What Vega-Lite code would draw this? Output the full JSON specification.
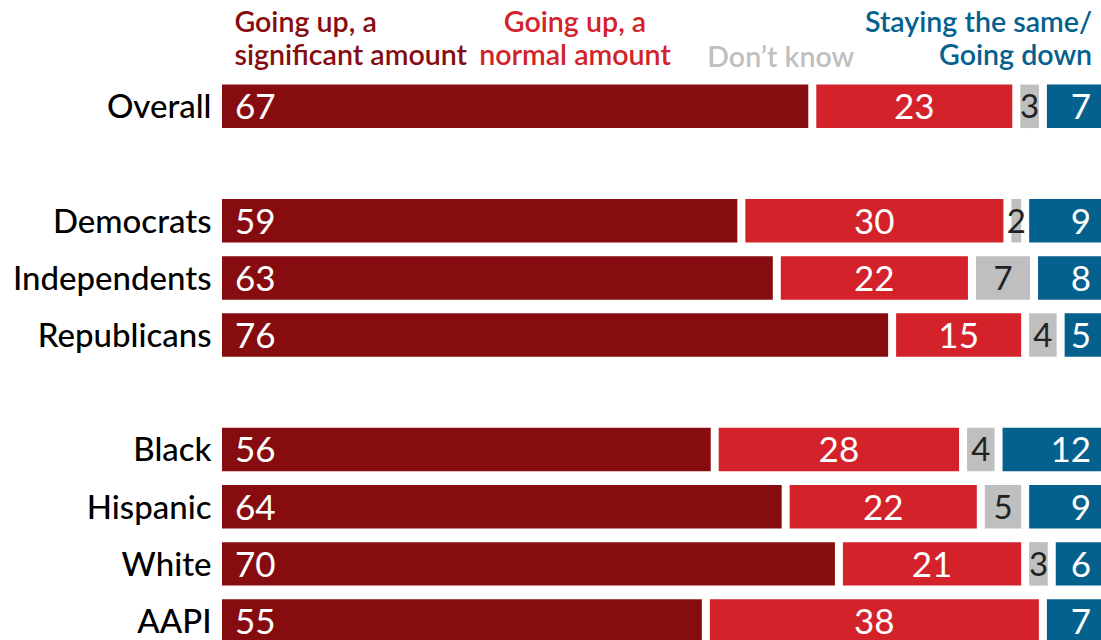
{
  "$schema": "https://vega.github.io/schema/vega-lite/v6.json",
  "width": 887,
  "height": 629.2,
  "autosize": {"type": "none"},
  "padding": {"left": 214, "top": 20.5, "right": 0, "bottom": -10},
  "background": "white",
  "config": {"view": {"stroke": null}, "font": "Lato"},
  "datasets": {
    "survey": [
      {"group": "Overall", "response": "Going up, a significant amount", "value": 67},
      {"group": "Overall", "response": "Going up, a normal amount", "value": 23},
      {"group": "Overall", "response": "Don’t know", "value": 3},
      {"group": "Overall", "response": "Staying the same/Going down", "value": 7},
      {"group": "Democrats", "response": "Going up, a significant amount", "value": 59},
      {"group": "Democrats", "response": "Going up, a normal amount", "value": 30},
      {"group": "Democrats", "response": "Don’t know", "value": 2},
      {"group": "Democrats", "response": "Staying the same/Going down", "value": 9},
      {"group": "Independents", "response": "Going up, a significant amount", "value": 63},
      {"group": "Independents", "response": "Going up, a normal amount", "value": 22},
      {"group": "Independents", "response": "Don’t know", "value": 7},
      {"group": "Independents", "response": "Staying the same/Going down", "value": 8},
      {"group": "Republicans", "response": "Going up, a significant amount", "value": 76},
      {"group": "Republicans", "response": "Going up, a normal amount", "value": 15},
      {"group": "Republicans", "response": "Don’t know", "value": 4},
      {"group": "Republicans", "response": "Staying the same/Going down", "value": 5},
      {"group": "Black", "response": "Going up, a significant amount", "value": 56},
      {"group": "Black", "response": "Going up, a normal amount", "value": 28},
      {"group": "Black", "response": "Don’t know", "value": 4},
      {"group": "Black", "response": "Staying the same/Going down", "value": 12},
      {"group": "Hispanic", "response": "Going up, a significant amount", "value": 64},
      {"group": "Hispanic", "response": "Going up, a normal amount", "value": 22},
      {"group": "Hispanic", "response": "Don’t know", "value": 5},
      {"group": "Hispanic", "response": "Staying the same/Going down", "value": 9},
      {"group": "White", "response": "Going up, a significant amount", "value": 70},
      {"group": "White", "response": "Going up, a normal amount", "value": 21},
      {"group": "White", "response": "Don’t know", "value": 3},
      {"group": "White", "response": "Staying the same/Going down", "value": 6},
      {"group": "AAPI", "response": "Going up, a significant amount", "value": 55},
      {"group": "AAPI", "response": "Going up, a normal amount", "value": 38},
      {"group": "AAPI", "response": "Staying the same/Going down", "value": 7}
    ],
    "answers": [
      {"response": "Going up, a significant amount", "k": 1, "head": ["Going up, a", "significant amount"], "anchor": 2.3},
      {"response": "Going up, a normal amount", "k": 2, "head": ["Going up, a", "normal amount"], "anchor": 40.7},
      {"response": "Don’t know", "k": 3, "head": ["Don’t know"], "anchor": 63.9},
      {"response": "Staying the same/Going down", "k": 4, "head": ["Staying the same/", "Going down"], "anchor": 99.0}
    ]
  },
  "layer": [
    {
      "data": {"name": "survey"},
      "transform": [
        {"lookup": "response", "from": {"data": {"name": "answers"}, "key": "response", "fields": ["k"]}},
        {"stack": "value", "groupby": ["group"], "sort": [{"field": "k", "order": "ascending"}], "as": ["v0", "v1"]}
      ],
      "mark": {"type": "bar", "xOffset": 8},
      "encoding": {
        "y": {
          "field": "group",
          "type": "nominal",
          "title": null,
          "scale": {
            "domain": ["hdr", "Overall", "g1", "Democrats", "Independents", "Republicans", "g2", "Black", "Hispanic", "White", "AAPI"],
            "paddingInner": 0.24,
            "paddingOuter": 0.12
          },
          "axis": {
            "domain": false,
            "ticks": false,
            "labelPadding": 3,
            "labelOffset": 2,
            "labelFont": "Lato",
            "labelFontSize": 33,
            "labelFontWeight": 500,
            "labelColor": "#000000",
            "labelLimit": 400,
            "labelExpr": "indexof(['hdr','g1','g2'], datum.value) >= 0 ? '' : datum.value"
          }
        },
        "x": {
          "field": "v0",
          "type": "quantitative",
          "scale": {"domain": [0, 100], "nice": false},
          "axis": null
        },
        "x2": {"field": "v1"},
        "color": {
          "field": "response",
          "type": "nominal",
          "scale": {
            "domain": ["Going up, a significant amount", "Going up, a normal amount", "Don’t know", "Staying the same/Going down"],
            "range": ["#860C10", "#D3222A", "#BFBFBF", "#04608C"]
          },
          "legend": null
        }
      }
    },
    {
      "data": {"name": "survey"},
      "transform": [
        {"lookup": "response", "from": {"data": {"name": "answers"}, "key": "response", "fields": ["k"]}}
      ],
      "mark": {"type": "text", "align": "left", "baseline": "middle", "dx": 21, "dy": 2, "fontSize": 35, "color": "white"},
      "encoding": {
        "y": {"field": "group", "type": "nominal"},
        "x": {"field": "value", "type": "quantitative", "stack": "zero", "bandPosition": 0},
        "detail": {"field": "response"},
        "order": {"field": "k", "type": "quantitative"},
        "text": {"condition": {"test": "datum.k == 1", "field": "value", "type": "quantitative"}, "value": ""}
      }
    },
    {
      "data": {"name": "survey"},
      "transform": [
        {"lookup": "response", "from": {"data": {"name": "answers"}, "key": "response", "fields": ["k"]}}
      ],
      "mark": {"type": "text", "align": "center", "baseline": "middle", "dx": 4, "dy": 2, "fontSize": 35, "color": "white"},
      "encoding": {
        "y": {"field": "group", "type": "nominal"},
        "x": {"field": "value", "type": "quantitative", "stack": "zero", "bandPosition": 0.5},
        "detail": {"field": "response"},
        "order": {"field": "k", "type": "quantitative"},
        "text": {"condition": {"test": "datum.k == 2", "field": "value", "type": "quantitative"}, "value": ""}
      }
    },
    {
      "data": {"name": "survey"},
      "transform": [
        {"lookup": "response", "from": {"data": {"name": "answers"}, "key": "response", "fields": ["k"]}}
      ],
      "mark": {"type": "text", "align": "center", "baseline": "middle", "dx": 4, "dy": 2, "fontSize": 33, "fontWeight": 400, "color": "#222222"},
      "encoding": {
        "y": {"field": "group", "type": "nominal"},
        "x": {"field": "value", "type": "quantitative", "stack": "zero", "bandPosition": 0.5},
        "detail": {"field": "response"},
        "order": {"field": "k", "type": "quantitative"},
        "text": {"condition": {"test": "datum.k == 3", "field": "value", "type": "quantitative"}, "value": ""}
      }
    },
    {
      "data": {"name": "survey"},
      "transform": [
        {"lookup": "response", "from": {"data": {"name": "answers"}, "key": "response", "fields": ["k"]}}
      ],
      "mark": {"type": "text", "align": "right", "baseline": "middle", "dx": -10, "dy": 2, "fontSize": 35, "color": "white"},
      "encoding": {
        "y": {"field": "group", "type": "nominal"},
        "x": {"field": "value", "type": "quantitative", "stack": "zero", "bandPosition": 1},
        "detail": {"field": "response"},
        "order": {"field": "k", "type": "quantitative"},
        "text": {"condition": {"test": "datum.k == 4", "field": "value", "type": "quantitative"}, "value": ""}
      }
    },
    {
      "data": {"name": "answers"},
      "mark": {
        "type": "text",
        "align": {"expr": "datum.k == 1 ? 'left' : (datum.k == 4 ? 'right' : 'center')"},
        "baseline": "bottom",
        "dy": {"expr": "datum.k == 3 ? 24 : -11"},
        "fontSize": 28.6,
        "fontWeight": 600,
        "lineHeight": 33
      },
      "encoding": {
        "y": {"datum": "hdr", "type": "nominal"},
        "x": {"field": "anchor", "type": "quantitative"},
        "color": {"field": "response", "type": "nominal"},
        "text": {"field": "head"}
      }
    }
  ]
}
